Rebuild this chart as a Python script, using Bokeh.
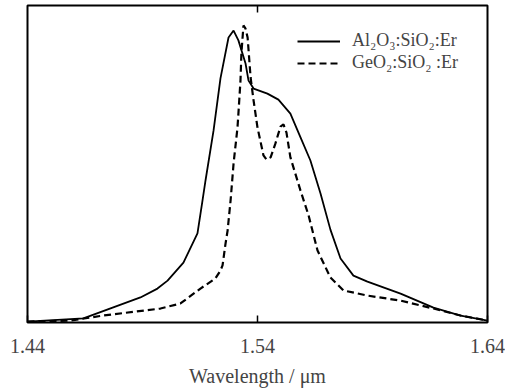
from bokeh.plotting import figure
from bokeh.models import Range1d, FixedTicker, LinearAxis, Legend, LegendItem
from bokeh.embed import file_html
from bokeh.resources import INLINE

# Wavelength (um) and normalized intensity (a.u.)
al_wl = [1.4400, 1.4643, 1.4891, 1.4965, 1.5009, 1.5078, 1.5139, 1.5161, 1.5174,
         1.5209, 1.5239, 1.5274, 1.5296, 1.5317, 1.5348, 1.5361, 1.5383, 1.5443,
         1.5491, 1.5543, 1.5587, 1.5630, 1.5674, 1.5717, 1.5761, 1.5817, 1.5878,
         1.6022, 1.6165, 1.6283, 1.6400]
al_int = [0.003, 0.013, 0.079, 0.107, 0.132, 0.189, 0.281, 0.385, 0.448,
          0.606, 0.770, 0.899, 0.921, 0.890, 0.817, 0.763, 0.738, 0.722,
          0.703, 0.659, 0.584, 0.511, 0.407, 0.293, 0.202, 0.148, 0.129,
          0.091, 0.047, 0.022, 0.006]

ge_wl = [1.4400, 1.4587, 1.4730, 1.4978, 1.5065, 1.5152, 1.5217, 1.5239, 1.5248,
         1.5261, 1.5270, 1.5283, 1.5296, 1.5313, 1.5317, 1.5326, 1.5330, 1.5339,
         1.5348, 1.5357, 1.5370, 1.5383, 1.5400, 1.5426, 1.5439, 1.5457, 1.5478,
         1.5500, 1.5513, 1.5526, 1.5543, 1.5587, 1.5622, 1.5661, 1.5717, 1.5774,
         1.5878, 1.6022, 1.6165, 1.6283, 1.6400]
ge_int = [0.003, 0.006, 0.022, 0.044, 0.060, 0.107, 0.139, 0.164, 0.180,
          0.249, 0.290, 0.385, 0.502, 0.615, 0.659, 0.763, 0.849, 0.937,
          0.927, 0.899, 0.773, 0.700, 0.615, 0.527, 0.514, 0.521, 0.565,
          0.618, 0.625, 0.599, 0.521, 0.416, 0.338, 0.227, 0.142, 0.101,
          0.085, 0.069, 0.044, 0.022, 0.006]

x_ticks = [1.44, 1.54, 1.64]
series_labels = ["Al\u2082O\u2083:SiO\u2082:Er", "GeO\u2082:SiO\u2082 :Er"]

FONT = "Liberation Serif"

p = figure(frame_width=460, frame_height=317, output_backend="svg",
           toolbar_location=None, x_range=Range1d(1.44, 1.64),
           y_range=Range1d(0, 1), min_border_left=27, min_border_right=18,
           min_border_top=5, min_border_bottom=0)
p.grid.visible = False
p.yaxis.visible = False
p.outline_line_color = "black"
p.outline_line_width = 2
p.background_fill_color = "white"
p.border_fill_color = "white"

xa = p.xaxis[0]
xa.ticker = FixedTicker(ticks=x_ticks)
xa.axis_line_color = None
xa.major_tick_in = 7
xa.major_tick_out = 0
xa.major_tick_line_width = 1.5
xa.minor_tick_line_color = None
xa.major_label_text_font = FONT
xa.major_label_text_font_size = "20px"
xa.major_label_standoff = 16
xa.axis_label = "Wavelength / \u03bcm"
xa.axis_label_text_font = FONT
xa.axis_label_text_font_size = "20px"
xa.axis_label_text_font_style = "normal"
xa.axis_label_standoff = 9

top = LinearAxis(ticker=FixedTicker(ticks=[1.54]), axis_line_color=None,
                 major_tick_in=7, major_tick_out=0, major_tick_line_width=1.5,
                 minor_tick_line_color=None, major_label_overrides={1.54: ""},
                 major_label_standoff=0)
p.add_layout(top, "above")

r1 = p.line(al_wl, al_int, line_color="black", line_width=1.8)
r2 = p.line(ge_wl, ge_int, line_color="black", line_width=2.2, line_dash="7 4")

legend = Legend(items=[LegendItem(label=series_labels[0], renderers=[r1]),
                       LegendItem(label=series_labels[1], renderers=[r2])],
                location=(270, 249), border_line_color=None,
                background_fill_alpha=0, padding=4, margin=0,
                glyph_width=43, glyph_height=20, label_height=20,
                label_standoff=12, spacing=1,
                label_text_font=FONT, label_text_font_size="18px")
p.add_layout(legend)

open("out.html", "w").write(file_html(p, INLINE))
